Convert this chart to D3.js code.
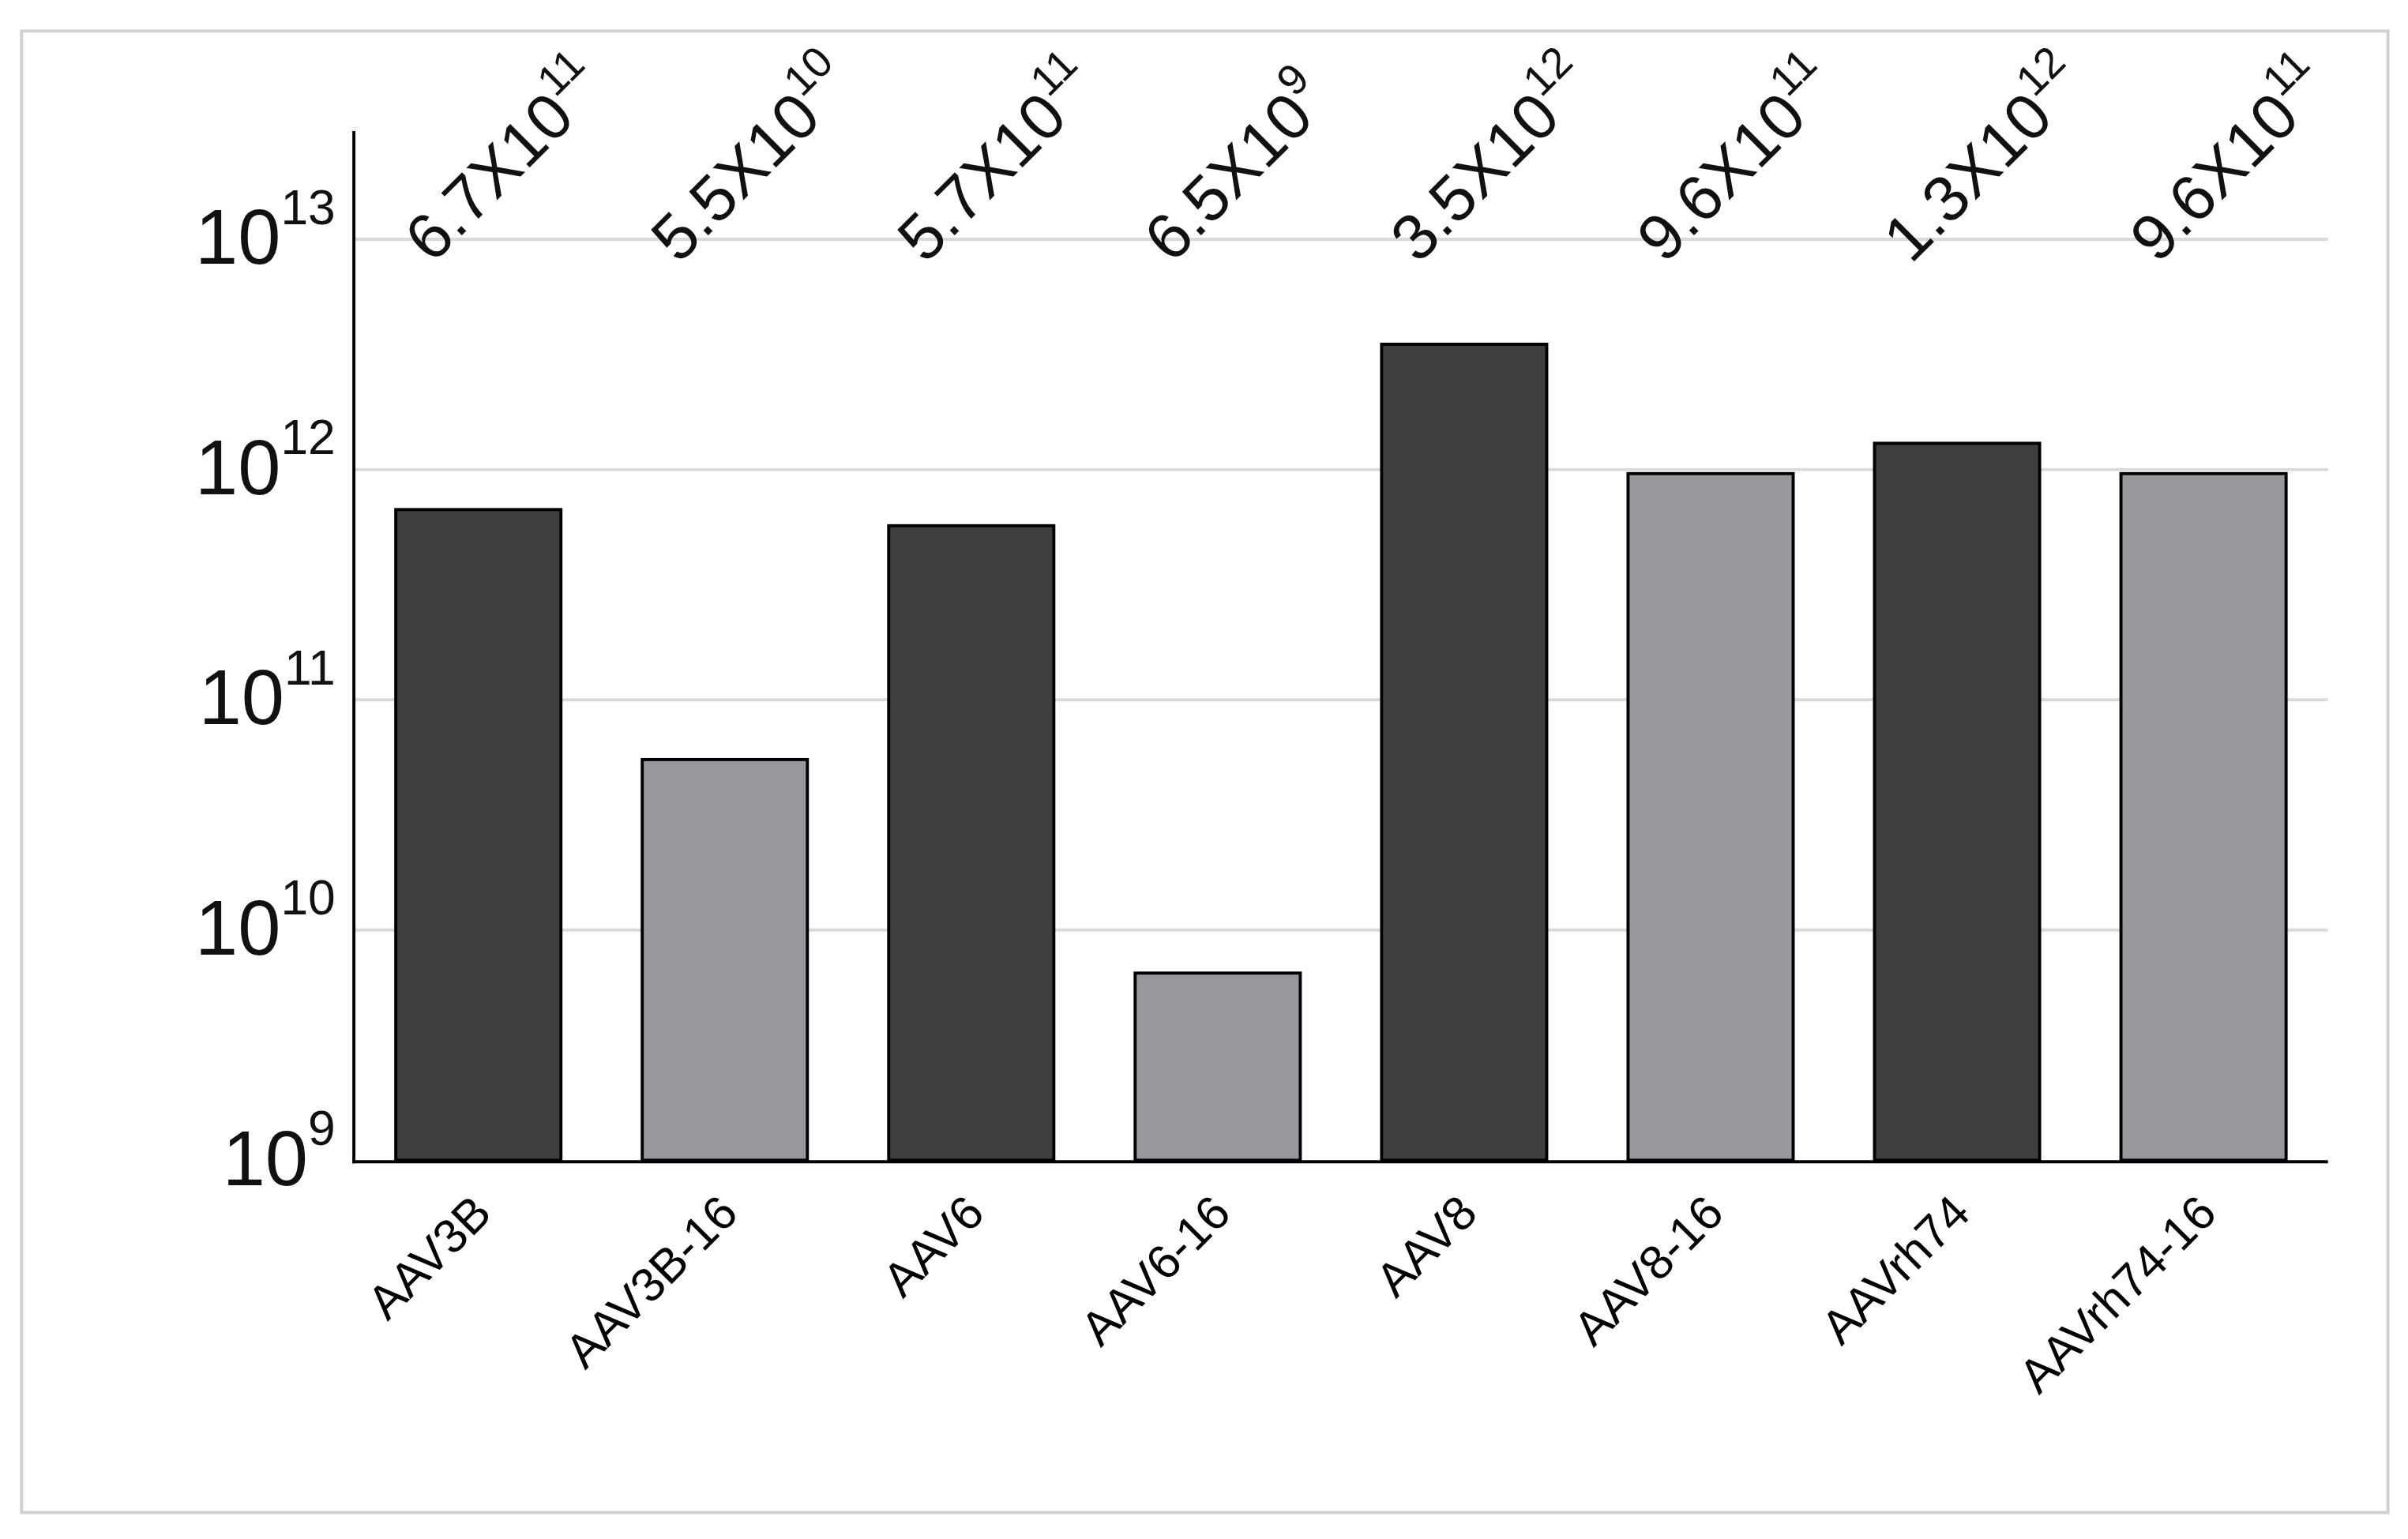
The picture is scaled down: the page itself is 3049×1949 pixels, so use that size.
<!DOCTYPE html>
<html><head><meta charset="utf-8">
<script src="https://cdn.jsdelivr.net/npm/d3@7"></script>
<style>body{margin:0;background:#fff}svg{display:block}</style>
</head><body>
<script>
const categories=["AAV3B","AAV3B-16","AAV6","AAV6-16","AAV8","AAV8-16","AAVrh74","AAVrh74-16"];
const values=[6.7e11,5.5e10,5.7e11,6.5e9,3.5e12,9.6e11,1.3e12,9.6e11];
const mantissas=["6.7","5.5","5.7","6.5","3.5","9.6","1.3","9.6"];
const exponents=["11","10","11","9","12","11","12","11"];
const shades=["dark","light","dark","light","dark","light","dark","light"];
const tickExps=[9,10,11,12,13];
const color={dark:"#3e3e40",light:"#97989b"};
const font="Liberation Sans, Arial, sans-serif";

const svg=d3.select("body").append("svg").attr("width",3049).attr("height",1949).attr("viewBox","0 0 1565 1000");
svg.append("rect").attr("x",14).attr("y",20).attr("width",1538).attr("height",963).attr("fill","none").attr("stroke","#d0d0d0").attr("stroke-width",2);
const y=d3.scaleLog().domain([1e9,Math.pow(10,13.47)]).range([754,85]);
const x=d3.scaleBand().domain(categories).range([230,1513]).paddingInner(0.33).paddingOuter(0.17);
// grid
svg.selectAll(".g").data(tickExps.slice(1)).join("line").attr("x1",230).attr("x2",1513)
 .attr("y1",d=>y(Math.pow(10,d))).attr("y2",d=>y(Math.pow(10,d))).attr("stroke","#d9d9d9").attr("stroke-width",2);
// bars
svg.selectAll(".b").data(values).join("rect").attr("x",(d,i)=>x(categories[i])).attr("width",x.bandwidth())
 .attr("y",d=>y(d)).attr("height",d=>754-y(d)).attr("fill",(d,i)=>color[shades[i]]).attr("stroke","#000").attr("stroke-width",2);
// axes
svg.append("line").attr("x1",230).attr("x2",230).attr("y1",85).attr("y2",756).attr("stroke","#000").attr("stroke-width",2);
svg.append("line").attr("x1",229).attr("x2",1513).attr("y1",755).attr("y2",755).attr("stroke","#000").attr("stroke-width",2);
// y tick labels
tickExps.forEach(e=>{
 const t=svg.append("text").attr("x",218).attr("y",y(Math.pow(10,e))+16).attr("text-anchor","end").attr("font-family",font).attr("fill","#111");
 t.append("tspan").attr("font-size",50).text("10");
 t.append("tspan").attr("font-size",32).attr("dy",-26).text(e);
});
// value labels
values.forEach((v,i)=>{
 const cx=x(categories[i])+x.bandwidth()/2;
 const t=svg.append("text").attr("transform",`translate(${cx-30},172) rotate(-45)`).attr("font-family",font).attr("fill","#111");
 t.append("tspan").attr("font-size",42).text(mantissas[i]+"X10");
 t.append("tspan").attr("font-size",28).attr("dy",-20).text(exponents[i]);
});
// category labels
categories.forEach((c,i)=>{
 const cx=x(categories[i])+x.bandwidth()/2;
 svg.append("text").attr("transform",`translate(${cx+10},790) rotate(-45)`).attr("text-anchor","end")
  .attr("font-family",font).attr("font-size",31).attr("fill","#000").text(c);
});
</script>
</body></html>
